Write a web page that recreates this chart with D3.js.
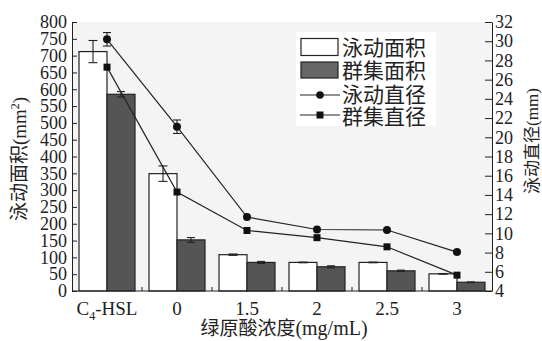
<!DOCTYPE html>
<html>
<head>
<meta charset="utf-8">
<script src="https://cdn.jsdelivr.net/npm/d3@7"></script>
<style>
  html, body { margin: 0; padding: 0; background: #fff; }
  svg { display: block; }
  text { font-family: "Liberation Serif", "Noto Sans CJK SC", serif; fill: #222; }
</style>
</head>
<body>
<svg id="chart" width="542" height="341"></svg>
<script>
// Chlorogenic acid concentrations (first group is the C4-HSL treatment)
const categories = ["C4-HSL", "0", "1.5", "2", "2.5", "3"];

// Motility (swimming) and swarming areas, mm²
const swimArea    = [712, 349, 108, 85, 85, 51];
const swimAreaErr = [33, 23, 2, 1, 1, 1];
const swarmArea    = [585, 152, 85, 72, 60, 26];
const swarmAreaErr = [8, 7, 3, 3, 2, 1];

// Motility and swarming diameters, mm
const swimDia    = [30.2, 21.1, 11.7, 10.4, 10.35, 8.05];
const swimDiaErr = [0.7, 0.7, 0, 0, 0, 0];
const swarmDia   = [27.3, 14.3, 10.3, 9.55, 8.6, 5.65];

const leftTicks  = d3.range(0, 801, 50);
const rightTicks = d3.range(4, 33, 2);

const svg = d3.select("#chart");
const plotL = 72, plotR = 492, plotT = 22, plotB = 291;

const x = d3.scaleBand().domain(categories).range([plotL, plotR])
  .paddingInner(0.2).paddingOuter(0.1);
const sub = d3.scaleBand().domain(["swim", "swarm"]).range([0, x.bandwidth()]);
const yL = d3.scaleLinear().domain([0, 800]).range([plotB, plotT]);
const yR = d3.scaleLinear().domain([4, 32]).range([plotB, plotT]);

// plot background
svg.append("rect").attr("x", plotL).attr("y", plotT)
  .attr("width", plotR - plotL).attr("height", plotB - plotT)
  .attr("fill", "#f4f4f4");

// bars
const groups = svg.append("g").selectAll("g").data(categories).join("g")
  .attr("transform", d => `translate(${x(d)},0)`);

groups.append("rect")
  .attr("x", sub("swim")).attr("width", sub.bandwidth())
  .attr("y", (d, i) => yL(swimArea[i]))
  .attr("height", (d, i) => plotB - yL(swimArea[i]))
  .attr("fill", "#ffffff").attr("stroke", "#222").attr("stroke-width", 1.2);

groups.append("rect")
  .attr("x", sub("swarm")).attr("width", sub.bandwidth())
  .attr("y", (d, i) => yL(swarmArea[i]))
  .attr("height", (d, i) => plotB - yL(swarmArea[i]))
  .attr("fill", "#555555").attr("stroke", "#222").attr("stroke-width", 1.2);

// error bars helper
function errBar(g, cx, yTop, yBot, cap) {
  g.append("line").attr("x1", cx).attr("x2", cx).attr("y1", yTop).attr("y2", yBot)
    .attr("stroke", "#222").attr("stroke-width", 1.1);
  [yTop, yBot].forEach(yy => g.append("line")
    .attr("x1", cx - cap / 2).attr("x2", cx + cap / 2).attr("y1", yy).attr("y2", yy)
    .attr("stroke", "#222").attr("stroke-width", 1.1));
}

const errG = svg.append("g");
categories.forEach((c, i) => {
  const cs = x(c) + sub("swim") + sub.bandwidth() / 2;
  errBar(errG, cs, yL(swimArea[i] + swimAreaErr[i]), yL(swimArea[i] - swimAreaErr[i]), 9);
  const cw = x(c) + sub("swarm") + sub.bandwidth() / 2;
  errBar(errG, cw, yL(swarmArea[i] + swarmAreaErr[i]), yL(swarmArea[i] - swarmAreaErr[i]), 8);
});

// diameter lines
const cx = c => x(c) + x.bandwidth() / 2;
const lineDia = d3.line().x((d, i) => cx(categories[i])).y(d => yR(d));
svg.append("path").datum(swimDia).attr("d", lineDia)
  .attr("fill", "none").attr("stroke", "#222").attr("stroke-width", 1.2);
svg.append("path").datum(swarmDia).attr("d", lineDia)
  .attr("fill", "none").attr("stroke", "#222").attr("stroke-width", 1.2);

categories.forEach((c, i) => {
  if (swimDiaErr[i] > 0) {
    errBar(errG, cx(c), yR(swimDia[i] + swimDiaErr[i]), yR(swimDia[i] - swimDiaErr[i]), 8);
  }
});

svg.append("g").selectAll("circle").data(swimDia).join("circle")
  .attr("cx", (d, i) => cx(categories[i])).attr("cy", d => yR(d)).attr("r", 4)
  .attr("fill", "#111");
svg.append("g").selectAll("rect").data(swarmDia).join("rect")
  .attr("x", (d, i) => cx(categories[i]) - 3.5).attr("y", d => yR(d) - 3.5)
  .attr("width", 7).attr("height", 7).attr("fill", "#111");

// left axis
const axL = svg.append("g").attr("transform", `translate(${plotL},0)`)
  .call(d3.axisLeft(yL).tickValues(leftTicks).tickSizeInner(-5).tickSizeOuter(0).tickPadding(5));
axL.selectAll("text").attr("font-size", 18);

// right axis
const axR = svg.append("g").attr("transform", `translate(${plotR},0)`)
  .call(d3.axisRight(yR).tickValues(rightTicks).tickSizeInner(-7).tickSizeOuter(0).tickPadding(3));
axR.selectAll("text").attr("font-size", 18);

// bottom axis with separators between groups
const axB = svg.append("g").attr("transform", `translate(0,${plotB})`);
axB.append("line").attr("x1", plotL).attr("x2", plotR).attr("y1", 0).attr("y2", 0)
  .attr("stroke", "#222");
categories.slice(1).forEach(c => {
  const xs = x(c) - x.step() * x.paddingInner() / 2;
  axB.append("line").attr("x1", xs).attr("x2", xs).attr("y1", 0).attr("y2", -4)
    .attr("stroke", "#222");
});
categories.forEach(c => {
  const t = axB.append("text").attr("x", cx(c)).attr("y", 24)
    .attr("text-anchor", "middle").attr("font-size", 19);
  if (c === "C4-HSL") {
    t.append("tspan").text("C");
    t.append("tspan").attr("font-size", 12).attr("dy", 5).text("4");
    t.append("tspan").attr("dy", -5).text("-HSL");
  } else {
    t.text(c);
  }
});
svg.selectAll(".domain").attr("stroke", "#222");
svg.selectAll(".tick line").attr("stroke", "#222");

// axis titles
const tx = svg.append("text").attr("x", 284).attr("y", 335)
  .attr("text-anchor", "middle").attr("font-size", 19);
tx.append("tspan").text("绿原酸浓度");
tx.append("tspan").attr("font-size", 20).text("(mg/mL)");

const tl = svg.append("text").attr("transform", "translate(26,159) rotate(-90)")
  .attr("text-anchor", "middle").attr("font-size", 19);
tl.append("tspan").text("泳动面积(mm");
tl.append("tspan").attr("font-size", 12).attr("dy", -7).text("2");
tl.append("tspan").attr("dy", 7).text(")");

svg.append("text").attr("transform", "translate(538,141) rotate(-90)")
  .attr("text-anchor", "middle").attr("font-size", 17)
  .text("泳动直径(mm)");

// legend
const lg = svg.append("g");
lg.append("rect").attr("x", 296).attr("y", 32).attr("width", 140).attr("height", 94).attr("fill", "#fff");
lg.append("rect").attr("x", 301).attr("y", 38.5).attr("width", 37).attr("height", 17)
  .attr("fill", "#fff").attr("stroke", "#222").attr("stroke-width", 1.2);
lg.append("rect").attr("x", 301).attr("y", 62).attr("width", 37).attr("height", 16)
  .attr("fill", "#666").attr("stroke", "#222").attr("stroke-width", 1.2);
[[95, "circle"], [115, "square"]].forEach(([yy, m]) => {
  lg.append("line").attr("x1", 300).attr("x2", 340).attr("y1", yy).attr("y2", yy)
    .attr("stroke", "#222").attr("stroke-width", 1.2);
  if (m === "circle") lg.append("circle").attr("cx", 320).attr("cy", yy).attr("r", 3.8).attr("fill", "#111");
  else lg.append("rect").attr("x", 316.5).attr("y", yy - 3.5).attr("width", 7).attr("height", 7).attr("fill", "#111");
});
const labels = ["泳动面积", "群集面积", "泳动直径", "群集直径"];
const ly = [47, 70, 94, 116];
labels.forEach((t, i) => lg.append("text").attr("x", 342).attr("y", ly[i])
  .attr("dy", "0.36em").attr("font-size", 21).text(t));
</script>
</body>
</html>
